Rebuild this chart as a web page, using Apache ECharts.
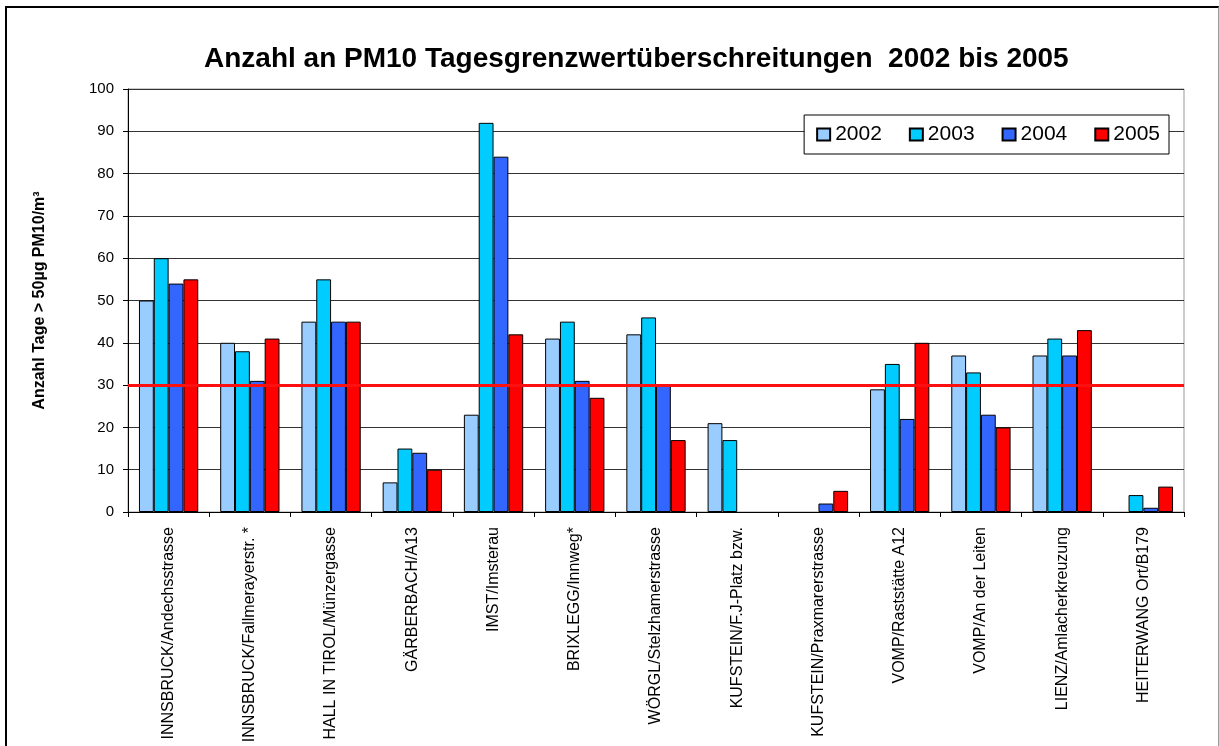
<!DOCTYPE html>
<html>
<head>
<meta charset="utf-8">
<script src="https://cdn.jsdelivr.net/npm/echarts@6/dist/echarts.min.js"></script>
<style>
    html, body { margin: 0; padding: 0; background: #fff; }
    #frame {
        position: absolute; left: 5px; top: 6px; width: 1211px; height: 760px;
        border-left: 2px solid #000; border-top: 2px solid #000; border-right: 1px solid #999;
    }
    #chart { position: absolute; left: 0; top: 0; width: 1219px; height: 746px; }
</style>
</head>
<body>
<div id="frame"></div>
<div id="chart"></div>
<script>
    // Messstellen
    var stations = ['INNSBRUCK/Andechsstrasse', 'INNSBRUCK/Fallmerayerstr. *', 'HALL IN TIROL/Münzergasse',
        'GÄRBERBACH/A13', 'IMST/Imsterau', 'BRIXLEGG/Innweg*', 'WÖRGL/Stelzhamerstrasse',
        'KUFSTEIN/F.J-Platz bzw.', 'KUFSTEIN/Praxmarerstrasse', 'VOMP/Raststätte A12',
        'VOMP/An der Leiten', 'LIENZ/Amlacherkreuzung', 'HEITERWANG Ort/B179'];
    var years = ['2002', '2003', '2004', '2005'];
    var v2002 = [50, 40, 45, 7, 23, 41, 42, 21, null, 29, 37, 37, null];
    var v2003 = [60, 38, 55, 15, 92, 45, 46, 17, null, 35, 33, 41, 4];
    var v2004 = [54, 31, 45, 14, 84, 31, 30, null, 2, 22, 23, 37, 1];
    var v2005 = [55, 41, 45, 10, 42, 27, 17, null, 5, 40, 20, 43, 6];
    var threshold = [30];
    var colors = ['#99CCFF', '#00CCFF', '#3366FF', '#FF0000'];

    var chart = echarts.init(document.getElementById('chart'));
    var values = [v2002, v2003, v2004, v2005];

    var series = years.map(function (y, i) {
        var s = {
            name: y,
            type: 'bar',
            data: values[i],
            barGap: '0%',
            barCategoryGap: '27%',
            itemStyle: { color: colors[i], borderColor: '#000', borderWidth: 1 }
        };
        if (i === 3) {
            // Grenzwert-Linie
            s.markLine = {
                silent: true,
                symbol: 'none',
                label: { show: false },
                lineStyle: { color: '#FF1010', width: 3, type: 'solid' },
                data: threshold.map(function (t) { return { yAxis: t }; })
            };
        }
        return s;
    });

    var option = {
        animation: false,
        textStyle: { fontFamily: 'Liberation Sans, Arial, sans-serif' },
        title: {
            text: 'Anzahl an PM10 Tagesgrenzwertüberschreitungen  2002 bis 2005',
            left: 199, top: 40,
            textStyle: { fontSize: 28, fontWeight: 'bold', color: '#000', fontFamily: 'Liberation Sans, Arial, sans-serif' }
        },
        legend: {
            data: years,
            right: 50, top: 115,
            orient: 'horizontal',
            backgroundColor: '#fff',
            borderColor: '#000', borderWidth: 1,
            padding: [9, 9, 9, 12],
            itemWidth: 13, itemHeight: 12, itemGap: 27,
            icon: 'rect',
            textStyle: { fontSize: 21, color: '#000' }
        },
        grid: {
            left: 128, right: 35, top: 89, bottom: 234,
            show: true, borderColor: '#999', borderWidth: 1, backgroundColor: '#fff'
        },
        xAxis: {
            type: 'category',
            data: stations,
            axisLine: { lineStyle: { color: '#000', width: 1 } },
            axisTick: { show: true, length: 5, lineStyle: { color: '#000' } },
            axisLabel: { rotate: 90, interval: 0, fontSize: 16, color: '#000', margin: 15 }
        },
        yAxis: {
            type: 'value',
            min: 0, max: 100, interval: 10,
            name: 'Anzahl Tage > 50µg PM10/m³',
            nameLocation: 'middle',
            nameGap: 80,
            nameTextStyle: { fontSize: 16, fontWeight: 'bold', color: '#000' },
            axisLine: { show: true, lineStyle: { color: '#000', width: 1 } },
            axisTick: { show: true, length: 5, lineStyle: { color: '#000' } },
            axisLabel: { fontSize: 15, color: '#000', margin: 14 },
            splitLine: { lineStyle: { color: '#333', width: 1 } }
        },
        series: series
    };
    option && chart.setOption(option);
</script>
</body>
</html>
